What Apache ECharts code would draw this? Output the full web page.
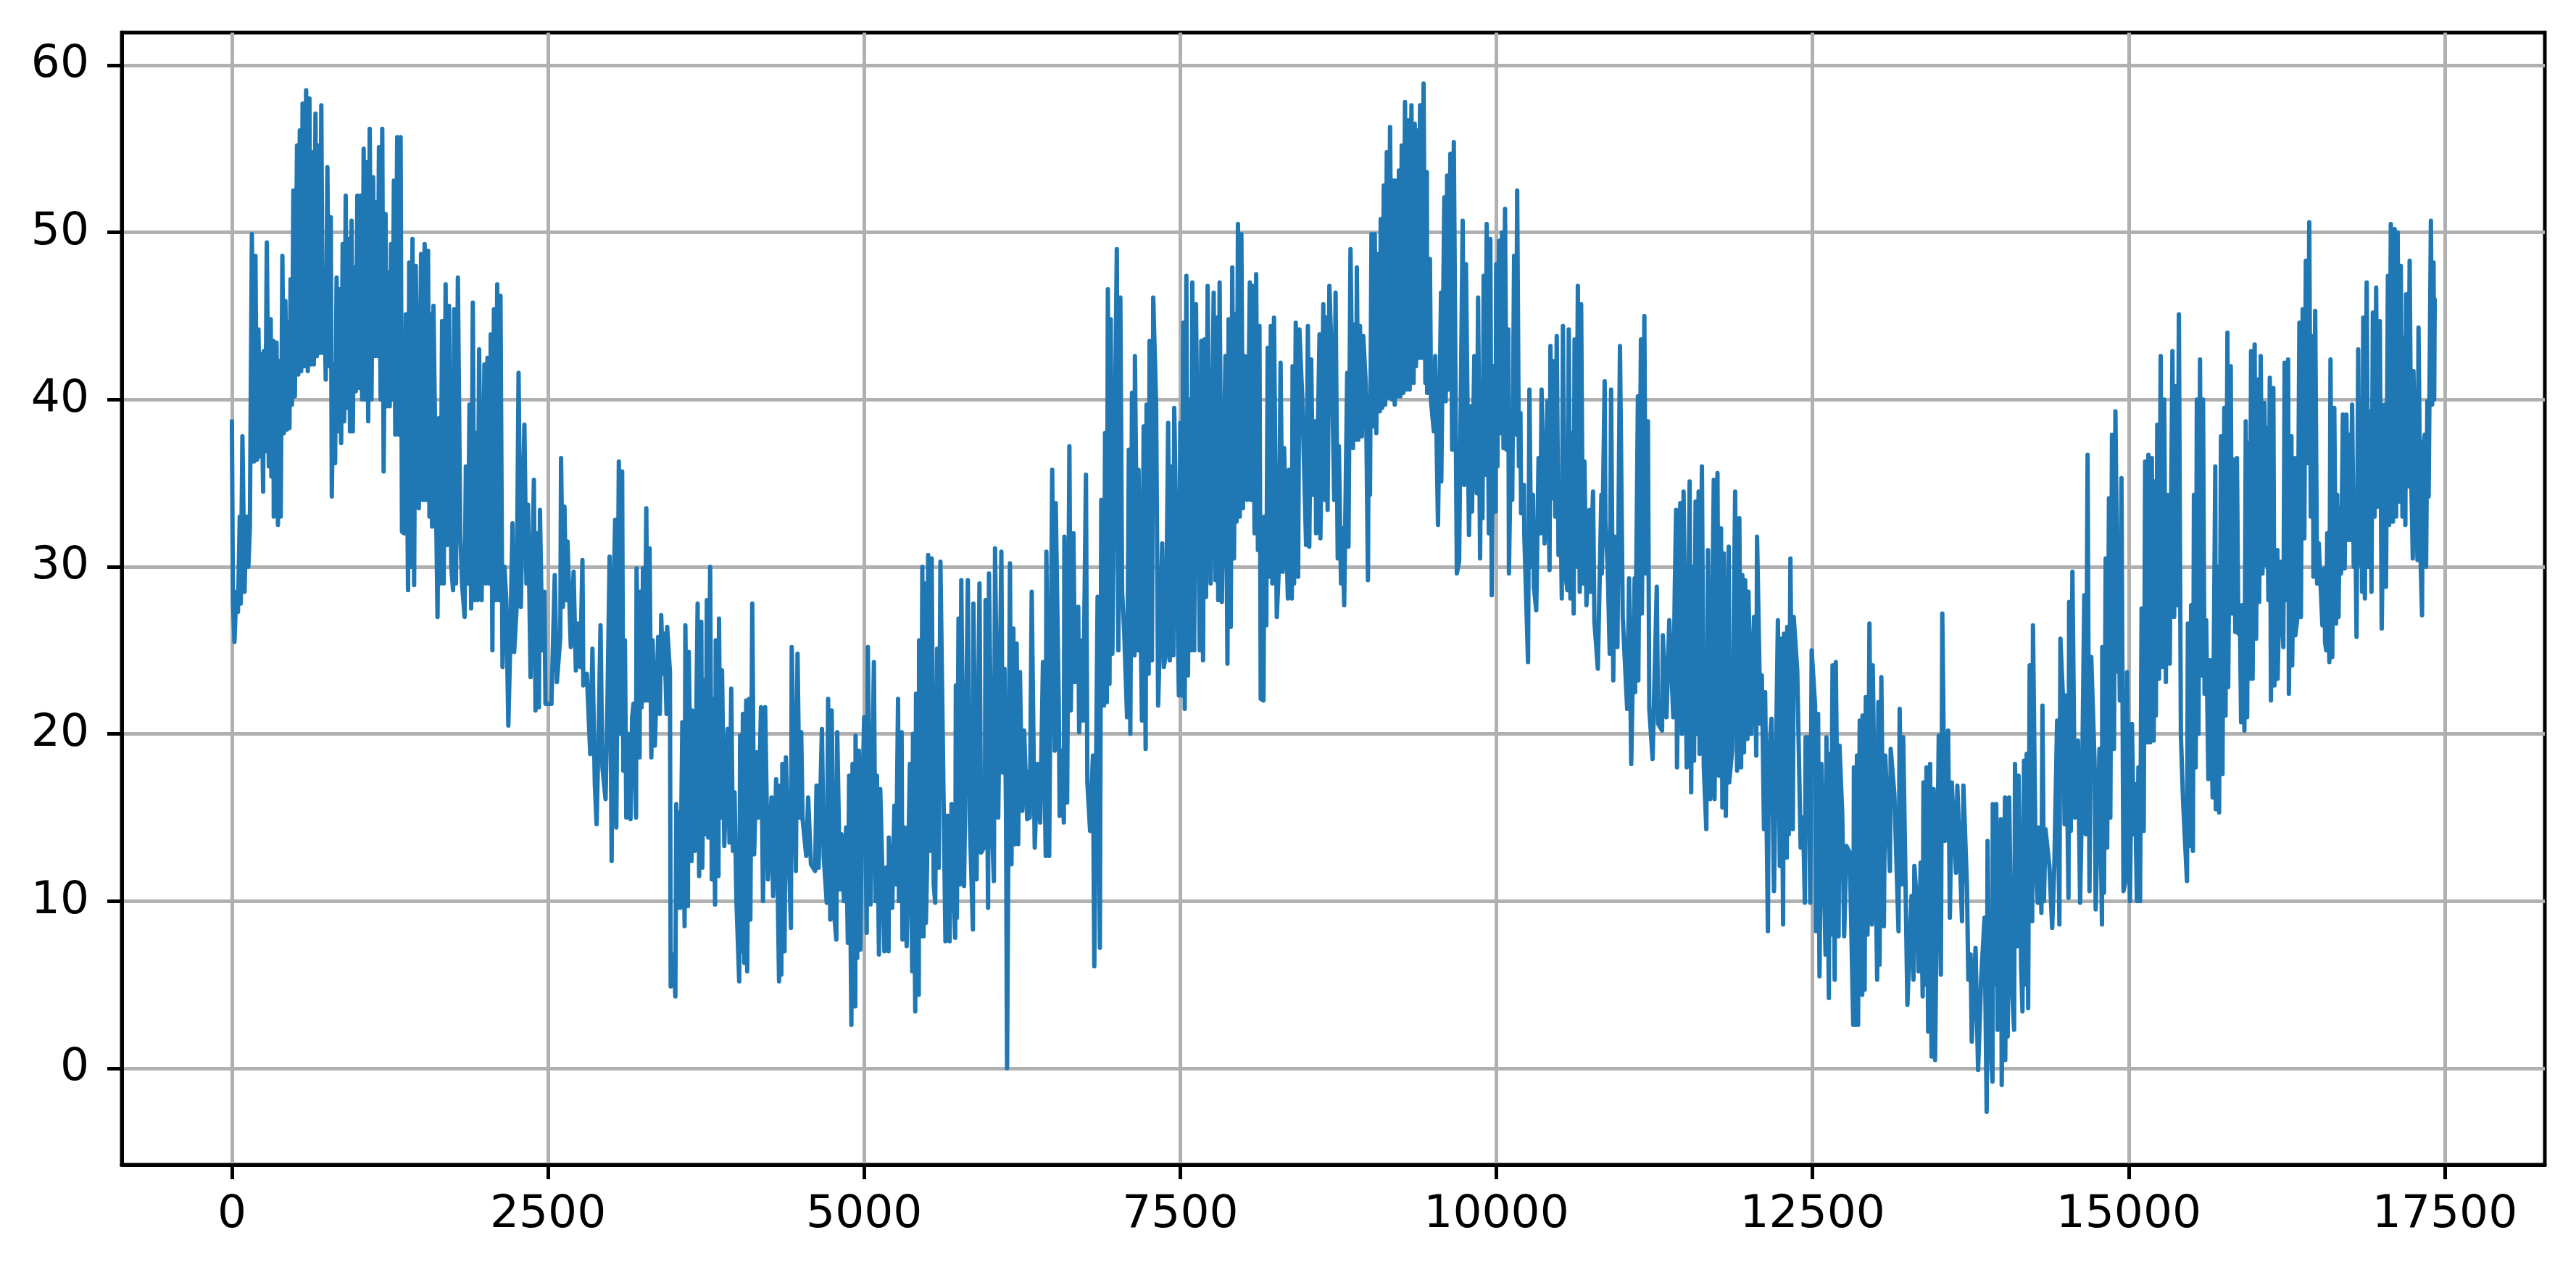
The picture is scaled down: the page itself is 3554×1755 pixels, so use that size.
<!DOCTYPE html>
<html>
<head>
<meta charset="utf-8">
<title>line</title>
<script src="https://cdn.jsdelivr.net/npm/echarts@6/dist/echarts.min.js"></script>
<style>
  html, body { margin: 0; padding: 0; background: #fff; }
  #main { width: 3554px; height: 1755px; }
</style>
</head>
<body>
<div id="main"></div>
<script>
// tick labels
var xTicks = [0, 2500, 5000, 7500, 10000, 12500, 15000, 17500];
var yTicks = [0, 10, 20, 30, 40, 50, 60];

// peaks and troughs, [x, value], one list per 2500 on the x axis
var part0 = [[0,38.7],[8,28],[20,25.5],[35,28.5],[48,27.3],[62,33],[70,27.8],[83,37.8],[100,28.5],[115,33],[130,30],[142,32.3],[158,49.9],[175,36.3],[186,48.6],[198,36.4],[210,44.2],[222,36.6],[232,42.7],[247,34.5],[252,42.9],[264,36.9],[276,49.4],[292,36],[307,44.8],[312,35.4],[328,43.5],[331,33],[353,43.4],[364,32.5],[374,42.3],[386,33],[399,48.6],[411,38],[423,45.9],[435,38.2],[445,44.6],[455,38.3],[464,47.2],[475,39.7],[486,52.5],[498,40.2],[515,55.2],[525,41.5],[537,56.1],[548,41.7],[559,57.7],[572,42],[587,58.5],[600,41.7],[613,58],[624,42.1],[635,54.8],[648,42.1],[661,57.1],[672,42.6],[683,55.2],[695,42.8],[707,57.6],[718,42.8],[729,47.3],[742,41.2],[755,53.9],[768,42],[782,50.9],[790,34.2],[804,42.1],[816,36.2],[828,47.3],[838,38.1],[850,46.6],[864,37.4],[876,49.3],[888,38.7],[900,52.2],[911,39.5],[922,49.6],[934,38.1],[946,50.7],[956,38.1],[968,47.9],[980,40.5],[992,52.2],[1005,40.7],[1018,52.2],[1030,40],[1042,55],[1055,40],[1066,54.2],[1078,38.7],[1090,56.2],[1104,40],[1117,53.3],[1130,42.6],[1141,51.8],[1152,42.6],[1163,55.1],[1176,40],[1189,56.2],[1200,35.7],[1215,51.1],[1225,39.6],[1237,47.6],[1248,39.6],[1259,49.3],[1270,40],[1281,53.1],[1292,37.9],[1307,55.7],[1320,37.9],[1334,55.7],[1345,32.1],[1362,32],[1375,45.1],[1393,28.6],[1402,48.2],[1415,30],[1428,49.6],[1441,28.9],[1454,48],[1478,33.5],[1496,48.7],[1510,34],[1524,49.3],[1535,34],[1551,48.9],[1562,33],[1572,45.1],[1583,32.4],[1594,45.6],[1626,27],[1638,38.9],[1650,29],[1662,44.7],[1675,29],[1690,46.9],[1703,31.3],[1717,45.6],[1735,30],[1749,28.6],[1758,45.4],[1772,29],[1787,47.3],[1806,32],[1820,29],[1840,27],[1850,36],[1866,29],[1879,39.7],[1892,27.5],[1905,45.8],[1918,28],[1930,38],[1943,28],[1955,43],[1975,28],[1997,42.1],[2008,29],[2021,42.5],[2034,29],[2047,43.9],[2060,25],[2072,45.4],[2085,28],[2098,46.9],[2110,28],[2124,46.2],[2140,24],[2155,30],[2170,28],[2186,20.5],[2200,25],[2219,32.6],[2232,24.9],[2252,27.6],[2267,41.6],[2285,27.6],[2313,38.5],[2329,29],[2342,33.7],[2362,23.4],[2388,35.2],[2401,21.4],[2415,32],[2428,21.6],[2436,33.4],[2455,25],[2471,28.5],[2480,21.8]];
var part1 = [[2527,21.8],[2553,29.5],[2570,23.1],[2597,25.8],[2603,36.5],[2618,27.6],[2630,33.6],[2642,28],[2654,31.5],[2680,25.2],[2702,29.7],[2720,23.8],[2735,26.6],[2755,24],[2772,30.4],[2779,22.9],[2807,23.6],[2834,18.8],[2851,25.1],[2870,17],[2884,14.6],[2900,20],[2915,26.5],[2930,18],[2955,16.1],[2970,22],[2987,30.6],[3003,12.4],[3017,28],[3031,32.8],[3040,14.4],[3060,36.3],[3072,20],[3086,35.7],[3095,17.8],[3108,25.6],[3119,15],[3132,20],[3152,14.9],[3165,21],[3176,21.8],[3196,15],[3200,29.9],[3224,18.6],[3229,28.5],[3240,21.6],[3251,29.9],[3264,22],[3277,33.5],[3288,22],[3303,31.1],[3317,18.6],[3327,25.6],[3345,19.3],[3371,25.8],[3384,21.2],[3395,27.1],[3408,23.6],[3420,26],[3437,21.2],[3442,26.4],[3464,23.7],[3470,4.9],[3492,6.8],[3507,4.3],[3514,15.8],[3525,9.6],[3540,15.3],[3546,9.6],[3562,20.7],[3580,8.5],[3586,26.5],[3606,9.7],[3613,24.9],[3635,12.4],[3639,21.4],[3660,13],[3683,27.8],[3695,11.5],[3712,26.7],[3720,12],[3734,23.2],[3745,14],[3756,28],[3767,13.8],[3782,30],[3795,11.3],[3804,22.1],[3821,9.8],[3826,25.6],[3848,11.5],[3852,26.9],[3865,15],[3876,23.8],[3894,13.3],[3920,20.3],[3935,13.5],[3949,22.7],[3962,13],[3975,16.5],[3990,10],[4012,5.2],[4019,19.9],[4030,7],[4041,21.2],[4052,6.3],[4067,22],[4075,5.8],[4091,22.1],[4100,8.9],[4115,27.8],[4130,12.8],[4151,18.9],[4165,15],[4184,21.6],[4200,10],[4217,21.6],[4239,11.3],[4267,16.2],[4280,10.3],[4304,17.3],[4327,5.2],[4333,16.9],[4345,5.6],[4353,18.2],[4370,7],[4381,18.6],[4421,8.4],[4427,25.2],[4460,11.8],[4473,24.8],[4490,15],[4502,20.1],[4513,14.9],[4542,12.7],[4557,16.2],[4579,12.2],[4612,11.8],[4623,16.9],[4640,12],[4666,20.3],[4680,12.7],[4704,9.9],[4715,22.1],[4732,8.9],[4743,21.4],[4765,9],[4780,7.7],[4787,20.1],[4809,10.7],[4820,14],[4840,10],[4857,14.4],[4871,7.5],[4881,17.5],[4899,2.6],[4908,18.2],[4915,6],[4930,3.7],[4932,19.9],[4945,6.6],[4958,19],[4970,7.1],[4980,14],[5000,21]];
var part2 = [[5020,8.1],[5029,25.2],[5050,9.8],[5077,24.3],[5090,10],[5101,17.5],[5117,6.8],[5127,16.7],[5160,7],[5175,12],[5193,7],[5195,13.8],[5222,9.6],[5239,15.7],[5252,11],[5268,22.1],[5275,10],[5296,20.1],[5303,7.7],[5320,14.4],[5336,7.3],[5362,18.2],[5380,5.8],[5386,20],[5404,3.4],[5410,22.4],[5432,4.4],[5434,25.6],[5448,7.9],[5460,30],[5470,7.9],[5480,29],[5488,8.7],[5498,12.2],[5506,30.7],[5520,13],[5534,30.5],[5550,11],[5562,9.9],[5577,25.1],[5590,12],[5603,30.3],[5643,7.6],[5658,15.1],[5676,7.6],[5691,15.8],[5720,7.8],[5725,22.9],[5733,9],[5746,26.9],[5758,11],[5768,29.2],[5790,10.9],[5820,29.2],[5835,14.9],[5860,8.3],[5864,27.8],[5889,11.3],[5912,29],[5925,12.9],[5954,13.3],[5960,28],[5980,9.6],[5987,29.6],[6012,14],[6026,11.2],[6035,31.1],[6060,15],[6085,30.9],[6095,17.7],[6110,23.9],[6122,15],[6130,0],[6138,10.3],[6153,30.2],[6165,12.2],[6180,26.3],[6192,13.4],[6206,25.4],[6218,13.4],[6232,23.7],[6250,15.4],[6265,20.2],[6289,14.9],[6294,17.7],[6310,15],[6325,28.5],[6349,13.2],[6371,18.2],[6392,14.7],[6414,24.3],[6436,12.7],[6441,30.9],[6463,12.7],[6487,35.8],[6507,19],[6515,33.8],[6539,21.8],[6546,15.1],[6561,19],[6579,14.7],[6583,31.8],[6605,15.9],[6623,37.2],[6634,21.4],[6655,32],[6667,23.1],[6693,27.6],[6700,20.1],[6724,25.6],[6732,20.8],[6754,35.5],[6765,17.1],[6787,14.2],[6809,18.7],[6820,6.1],[6846,28.2],[6864,7.2],[6875,34],[6897,21.7],[6905,38],[6919,21.9],[6927,46.6],[6940,23],[6950,44.8],[6963,24.8],[6998,49],[7010,25],[7026,46.1],[7040,28.5],[7057,26],[7079,21],[7093,37],[7105,20],[7118,40.4],[7138,24.7],[7141,42.6],[7165,25],[7170,35.8],[7197,20.8],[7210,38.4],[7226,19.1],[7233,39.7],[7250,23.6],[7257,43.5],[7276,24.4],[7286,46.1],[7309,39.7],[7325,21.7],[7357,31.4],[7370,24],[7386,24.8],[7404,38.6],[7417,24.4],[7428,36],[7445,24.7],[7452,39.5],[7489,22.3],[7500,38.6]];
var part3 = [[7510,22.3],[7523,44.6],[7535,21.5],[7548,47.4],[7561,23.5],[7575,40],[7588,25],[7595,47],[7610,25],[7624,45.7],[7654,25],[7666,43.5],[7680,24.4],[7691,43.6],[7704,28.2],[7716,46.8],[7740,29],[7764,46.4],[7778,29.2],[7786,44.9],[7800,28],[7811,47],[7829,27.9],[7857,42.6],[7873,24.2],[7882,44.8],[7899,26.4],[7911,47.9],[7925,30.5],[7934,45.1],[7945,32.7],[7956,50.5],[7970,33],[7983,49.9],[7996,33.5],[8010,42.6],[8030,34],[8050,47],[8059,34],[8073,46.8],[8087,32],[8100,47.5],[8114,31],[8126,44.4],[8136,22.1],[8158,22],[8165,33],[8180,26.5],[8191,43.1],[8203,29.4],[8216,44.4],[8228,29],[8241,44.9],[8263,27],[8280,30],[8293,42.2],[8310,29.7],[8321,37.1],[8351,28.1],[8360,35.8],[8382,28.1],[8388,42],[8400,29],[8413,44.6],[8432,29.4],[8442,44.2],[8465,40],[8495,31.3],[8509,44.4],[8520,31.2],[8535,42.4],[8550,34.3],[8570,38.7],[8574,32],[8601,43.9],[8608,31.7],[8631,45.7],[8644,34],[8652,44.9],[8665,33.4],[8679,46.8],[8698,42.3],[8717,34],[8728,46.4],[8745,30.5],[8754,37.2],[8771,29],[8782,32.3],[8796,27.7],[8820,41.6],[8830,31.2],[8846,49],[8866,37.1],[8870,44.5],[8892,37.6],[8896,47.9],[8908,37.6],[8921,44.4],[8936,37.8],[8947,43.8],[8968,40.8],[8984,29.2],[8990,40.2],[9000,34.3],[9012,49.9],[9024,38.4],[9038,49.9],[9050,38],[9063,48.7],[9078,39.3],[9085,50.8],[9097,39.5],[9109,52.8],[9120,39.7],[9133,54.8],[9143,40.1],[9159,56.3],[9175,40],[9187,53.1],[9196,39.7],[9205,53.1],[9218,40.2],[9229,53.7],[9240,40.2],[9251,55.2],[9264,40.4],[9277,57.8],[9290,40.6],[9301,56.7],[9314,40.6],[9328,57.6],[9345,41],[9354,56.5],[9364,42],[9374,56.1],[9385,42.5],[9396,57.6],[9410,42.5],[9424,58.9],[9438,41],[9450,53.6],[9452,40.4],[9474,48.4],[9483,39.9],[9505,38.1],[9516,42.6],[9538,32.5],[9562,46.4],[9564,35.1],[9588,52.1],[9599,39.9],[9610,53.4],[9622,40.6],[9636,54.7],[9650,37],[9663,55.4],[9687,29.6],[9705,30.3],[9733,50.7],[9745,34.9],[9759,48.1],[9783,31.9],[9801,39.6],[9807,33.3],[9825,42.6],[9845,34.4],[9855,46.1],[9871,30.5],[9880,40.9],[9890,32.9],[9899,47.4],[9912,35.5],[9923,50.5],[9940,32],[9952,49.6],[9963,28.3],[9975,42],[9993,33.3],[9998,48.1]];
var part4 = [[10008,36],[10020,49.5],[10032,38],[10044,50],[10056,37.1],[10068,51.4],[10080,37],[10094,44.2],[10099,29.6],[10118,39.4],[10125,34],[10140,48.6],[10155,37.9],[10164,52.5],[10178,36],[10190,39.2],[10195,33.2],[10217,34.9],[10221,31.8],[10250,24.3],[10261,40.6],[10275,30],[10289,34.3],[10296,28.8],[10315,27.4],[10333,36.5],[10348,32],[10357,40.6],[10381,31.4],[10403,39.9],[10420,29.8],[10427,43.2],[10440,34.1],[10453,42.3],[10465,33],[10477,43.8],[10491,30.7],[10510,32],[10517,28.1],[10526,44.4],[10540,30],[10561,28.6],[10572,44.2],[10585,28.1],[10600,38],[10611,27.2],[10618,43.6],[10630,30],[10644,46.8],[10659,28.5],[10670,45.7],[10685,29],[10696,36.3],[10712,27.7],[10736,33.4],[10742,28.5],[10764,34.5],[10775,26.7],[10802,23.9],[10830,34.3],[10834,29.6],[10856,41.1],[10862,32.7],[10880,30],[10896,24.8],[10907,40.6],[10924,23.2],[10935,31.8],[10957,25.2],[10977,43.2],[10999,27],[11034,21.5],[11049,29.3],[11066,18.2],[11093,29.3],[11097,22.5],[11119,40.2],[11122,23.2],[11143,43.6],[11150,27.2],[11170,45],[11180,29.6],[11198,38.7],[11209,21.5],[11235,18.5],[11268,28.8],[11279,20.6],[11310,20.2],[11316,25.9],[11345,21],[11367,26.8],[11399,21],[11410,28.4],[11421,33.4],[11428,18],[11454,33.8],[11467,20],[11480,34.5],[11505,18],[11528,35.1],[11540,16.5],[11552,30],[11563,18.4],[11575,33.9],[11587,20],[11599,34.5],[11607,18.8],[11625,36],[11640,18],[11660,14.3],[11673,31],[11690,16.1],[11719,35.2],[11725,16.1],[11748,35.6],[11760,17.5],[11776,32.3],[11787,15.6],[11798,30.8],[11814,15.1],[11837,31.2],[11841,17.1],[11865,19.1],[11888,34.5],[11903,17.8],[11921,32.9],[11935,18],[11945,29.5],[11958,18.9],[11967,29.2],[11985,19.7],[11993,28.5],[12015,20],[12037,27],[12055,18.7],[12061,31.8],[12088,20.6],[12099,23.5],[12116,14.3],[12125,22.5],[12147,8.2],[12153,18.2],[12175,20.9],[12195,10.6],[12226,26.8],[12241,12.1],[12252,25.7],[12267,8.6],[12274,26],[12296,12.6],[12300,26.4],[12312,14],[12325,30.5],[12344,14.3],[12351,27],[12379,23.8],[12406,13.2],[12425,15],[12439,9.9],[12445,19.8],[12467,19.8],[12482,9.9],[12493,25]];
var part5 = [[12520,21.7],[12528,8.2],[12544,21.2],[12555,5.5],[12570,18.2],[12603,6.8],[12610,19.8],[12629,4.2],[12636,18.8],[12645,8],[12658,24.1],[12675,5.3],[12684,24.3],[12706,7.9],[12713,19.3],[12735,15.2],[12750,7.9],[12768,13.3],[12794,12.9],[12822,2.6],[12827,18],[12840,2.6],[12851,18.7],[12860,2.6],[12873,20.8],[12893,4.4],[12895,21.1],[12912,4.7],[12921,22.2],[12935,8],[12950,26.6],[12969,8.6],[12976,24.1],[13011,5.3],[13020,21.9],[13030,6.2],[13044,23.4],[13064,8.5],[13075,18.7],[13112,11.8],[13118,19.1],[13147,16.4],[13180,8.2],[13189,21.5],[13205,11],[13217,19.8],[13235,11.2],[13250,3.8],[13283,10.3],[13298,5.3],[13305,12.1],[13327,9.7],[13338,5.8],[13355,12.3],[13371,4.3],[13377,17.1],[13390,5],[13401,18],[13414,2.2],[13430,18.2],[13441,0.7],[13458,16.7],[13469,0.5],[13498,19.9],[13515,5.6],[13526,27.2],[13546,13.6],[13572,20.2],[13586,9],[13601,17.1],[13634,11.7],[13645,16.9],[13682,8.8],[13693,16.9],[13721,10.9],[13732,5.3],[13750,6.8],[13759,1.6],[13789,7.2],[13809,-0.1],[13833,5.3],[13860,9],[13877,-2.6],[13884,13.6],[13900,2],[13923,-0.8],[13925,15.8],[13940,5],[13953,15.8],[13963,2.3],[13989,14.9],[13996,-1],[14022,16.2],[14024,0.5],[14036,14],[14043,1.9],[14055,16.2],[14075,5],[14094,2.3],[14101,18.2],[14120,7.3],[14129,17.5],[14150,6],[14160,3.4],[14172,18.4],[14185,5],[14193,18.8],[14205,3.6],[14217,24.1],[14237,8.8],[14243,26.5],[14265,12],[14281,9.9],[14287,14.4],[14310,9.3],[14318,21.7],[14330,10],[14342,14.3],[14373,12.1],[14395,8.4],[14412,12.1],[14434,20.8],[14452,8.6],[14460,25.7],[14482,21.9],[14493,14.6],[14504,22.3],[14524,10.2],[14529,27.9],[14542,14.2],[14555,29.7],[14575,15],[14599,19.6],[14616,9.9],[14630,16],[14649,28.3],[14660,14],[14675,36.7],[14690,10.6],[14704,24.6],[14730,18.4],[14739,9.5],[14769,19.1],[14789,8.6],[14791,25.2],[14805,10.5],[14818,30.5],[14830,13.2],[14844,34.1],[14855,15],[14868,37.9],[14884,19.1],[14895,39.3],[14917,23.7],[14919,29.5],[14930,22],[14943,35.3],[14959,10.6],[14975,11.2],[14987,23.7]];
var part6 = [[15010,10],[15026,20.6],[15040,14],[15050,17],[15065,10],[15077,18],[15090,10],[15102,27.5],[15119,14.2],[15130,36.3],[15145,19.5],[15156,36.7],[15170,19.5],[15183,36.5],[15198,19.6],[15204,35.1],[15215,21.1],[15226,38.5],[15240,23.3],[15253,42.6],[15265,24],[15281,40],[15294,23.1],[15306,34.3],[15325,24.2],[15346,42.9],[15360,27],[15374,40.8],[15385,27.7],[15397,45.1],[15413,19.9],[15430,16],[15461,11.2],[15468,26.6],[15482,13.3],[15494,27.7],[15508,13],[15516,34.3],[15530,18],[15539,40],[15552,20],[15564,42.4],[15575,23.5],[15588,40],[15600,22.4],[15613,26.8],[15630,17.3],[15643,24.4],[15664,16.2],[15685,36],[15689,15.5],[15707,30],[15715,15.3],[15730,37.8],[15742,17.6],[15756,39.5],[15766,21.1],[15781,44],[15787,22.8],[15807,42],[15817,27.2],[15830,36.4],[15843,26.1],[15856,36.5],[15868,26],[15879,27.7],[15889,20.7],[15901,27.7],[15915,20.2],[15926,38.7],[15937,21],[15947,37.4],[15958,23.3],[15968,42.9],[15980,23.3],[15996,43.3],[16008,25.7],[16021,41.2],[16032,27.9],[16044,42.6],[16058,29.6],[16074,39.8],[16085,30.1],[16091,38.3],[16105,28],[16116,41.3],[16125,22],[16144,40.7],[16153,22.9],[16176,31],[16178,23.3],[16197,30.3],[16223,25.2],[16233,42.2],[16247,28],[16261,42.4],[16267,22.4],[16287,37.8],[16293,24.1],[16312,36.5],[16318,25.9],[16335,27],[16350,44.6],[16362,27],[16376,45.4],[16389,31.7],[16401,48.3],[16416,36.2],[16428,50.6],[16440,33],[16456,43.8],[16461,29.4],[16475,45.3],[16490,29],[16503,31.4],[16532,26.5],[16547,29.9],[16553,25.5],[16562,25],[16570,32],[16587,24.3],[16596,42.4],[16610,24.6],[16626,39.5],[16640,26.6],[16649,34.3],[16660,27],[16668,33.5],[16680,29.6],[16694,39.1],[16708,29.9],[16722,39.1],[16735,31.6],[16745,37.9],[16755,31.6],[16767,39.7],[16780,30],[16791,33.7],[16802,25.8],[16815,43],[16826,30.1],[16838,39.1],[16846,28.5],[16855,44.9],[16868,28.1],[16882,47],[16895,30],[16906,39.3],[16920,28.5],[16931,45.2],[16945,33],[16957,46.7],[16970,33.6],[16986,44.7],[17001,26.3],[17023,39.7],[17035,28.8],[17050,47.4],[17060,32.5],[17073,50.5],[17090,32.7],[17103,50.2],[17115,33],[17127,50],[17140,33.9],[17152,48],[17165,33],[17178,43.7],[17188,32.5],[17194,46.3],[17210,34.8],[17222,48.3],[17235,35],[17247,30.5],[17252,41.7],[17270,35],[17284,30.4],[17292,44.3],[17310,30],[17320,27.1],[17326,36.8],[17341,37.9],[17352,30],[17362,39.9],[17372,34.2],[17390,50.7],[17400,39.7],[17411,48.2],[17416,40],[17420,46]];

var lineData = part0.concat(part1, part2, part3, part4, part5, part6);

var myChart = echarts.init(document.getElementById('main'), null, { renderer: 'canvas' });

function plainLabel(v) {
  return String(v);
}

var option = {
  backgroundColor: '#fff',
  animation: false,
  grid: {
    show: true,
    left: 168,
    right: 43,
    top: 45,
    bottom: 148,
    borderColor: '#000',
    borderWidth: 5,
    backgroundColor: '#fff'
  },
  xAxis: {
    type: 'value',
    min: -871,
    max: 18291,
    axisLine: { onZero: false, lineStyle: { color: '#000', width: 5 } },
    axisTick: { customValues: xTicks, length: 20, lineStyle: { color: '#000', width: 5 } },
    axisLabel: { customValues: xTicks, formatter: plainLabel, fontFamily: 'DejaVu Sans', fontSize: 63, color: '#000', margin: 38 },
    splitLine: { show: true, lineStyle: { color: '#b0b0b0', width: 5 } }
  },
  yAxis: {
    type: 'value',
    min: -5.77,
    max: 61.95,
    axisLine: { onZero: false, lineStyle: { color: '#000', width: 5 } },
    axisTick: { customValues: yTicks, length: 20, lineStyle: { color: '#000', width: 5 } },
    axisLabel: { customValues: yTicks, formatter: plainLabel, fontFamily: 'DejaVu Sans', fontSize: 63, color: '#000', margin: 45 },
    splitLine: { show: true, lineStyle: { color: '#b0b0b0', width: 5 } }
  },
  series: [
    {
      type: 'line',
      data: lineData,
      showSymbol: false,
      sampling: false,
      lineStyle: { color: '#1f77b4', width: 6, join: 'round', cap: 'round' },
      clip: true
    }
  ]
};

myChart.setOption(option, true);
</script>
</body>
</html>
